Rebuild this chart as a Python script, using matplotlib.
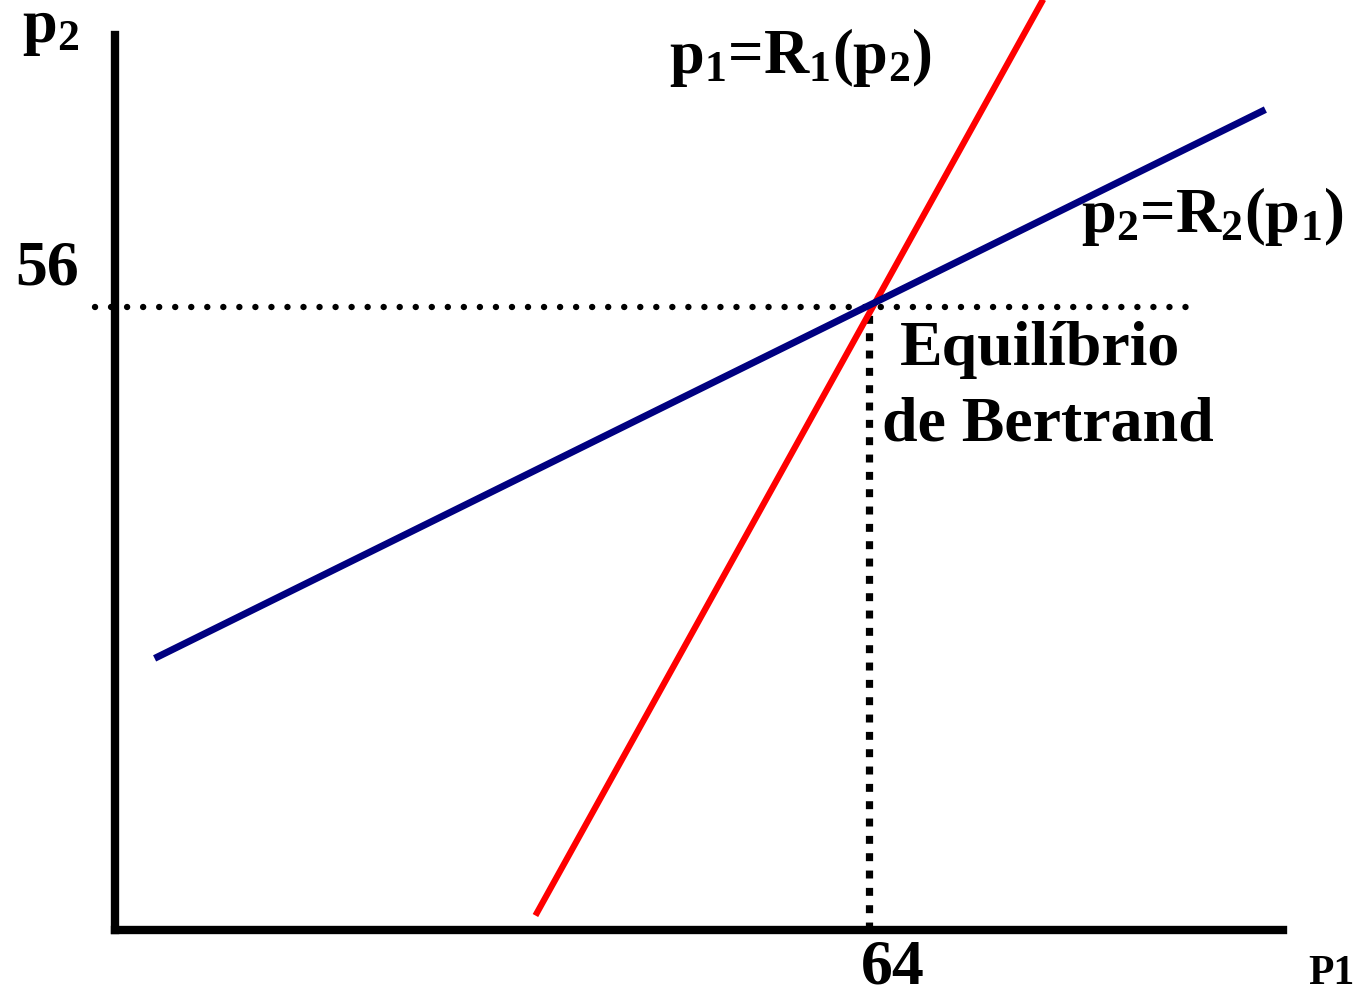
import matplotlib
matplotlib.use("Agg")
import matplotlib.pyplot as plt

plt.rcParams["font.family"] = ["Liberation Serif", "DejaVu Serif"]
plt.rcParams["font.weight"] = "bold"
plt.rcParams["mathtext.fontset"] = "custom"
plt.rcParams["mathtext.rm"] = "Liberation Serif:bold"
plt.rcParams["mathtext.bf"] = "Liberation Serif:bold"
plt.rcParams["mathtext.it"] = "Liberation Serif:bold"
plt.rcParams["mathtext.default"] = "bf"

# reaction curves (end points)
r1_p1 = [35.6, 78.8]
r1_p2 = [1.3, 83.6]
r2_p1 = [3.2, 97.7]
r2_p2 = [24.4, 73.7]

# Bertrand equilibrium
eq_p1 = 64
eq_p2 = 56

fig = plt.figure(figsize=(13.59, 9.90), dpi=100)
ax = fig.add_axes([115 / 1359, 60 / 990, 1168 / 1359, 895 / 990])
ax.set_xlim(-0.17, 99.2)
ax.set_ylim(0, 80.4)

for side in ("top", "right"):
    ax.spines[side].set_visible(False)
for side in ("left", "bottom"):
    ax.spines[side].set_linewidth(6)
ax.set_xticks([])
ax.set_yticks([])

# dotted guides
ax.plot([-1.9, 91.3], [eq_p2, eq_p2], color="black", lw=4.6,
        ls=(0, (0.01, 2.5)), dash_capstyle="round", clip_on=False)
ax.plot([eq_p1, eq_p1], [0, eq_p2], color="black", lw=5.2,
        ls=(0, (1.1, 1.3)), dash_capstyle="butt")

ax.plot(r1_p1, r1_p2, color="#ff0000", lw=4.5, clip_on=False,
        solid_capstyle="butt")
ax.plot(r2_p1, r2_p2, color="#000080", lw=5, solid_capstyle="butt")

ax.text(47.0, 77.0, r"p$_1$=R$_1$(p$_2$)", fontsize=45)
ax.text(82.0, 62.7, r"p$_2$=R$_2$(p$_1$)", fontsize=45)
ax.text(66.6, 50.8, "Equilíbrio", fontsize=46)
ax.text(65.1, 44.0, "de Bertrand", fontsize=46)

ax.text(-3.2, 57.95, str(eq_p2), fontsize=46, ha="right", clip_on=False)
ax.text(66.0, -4.8, str(eq_p1), fontsize=46, ha="center",
        va="baseline", clip_on=False)

fig.text(0.016, 0.958, r"p$_2$", fontsize=45)
fig.text(0.963, 0.006, "P1", fontsize=30)

fig.savefig("out.png", dpi=100)
